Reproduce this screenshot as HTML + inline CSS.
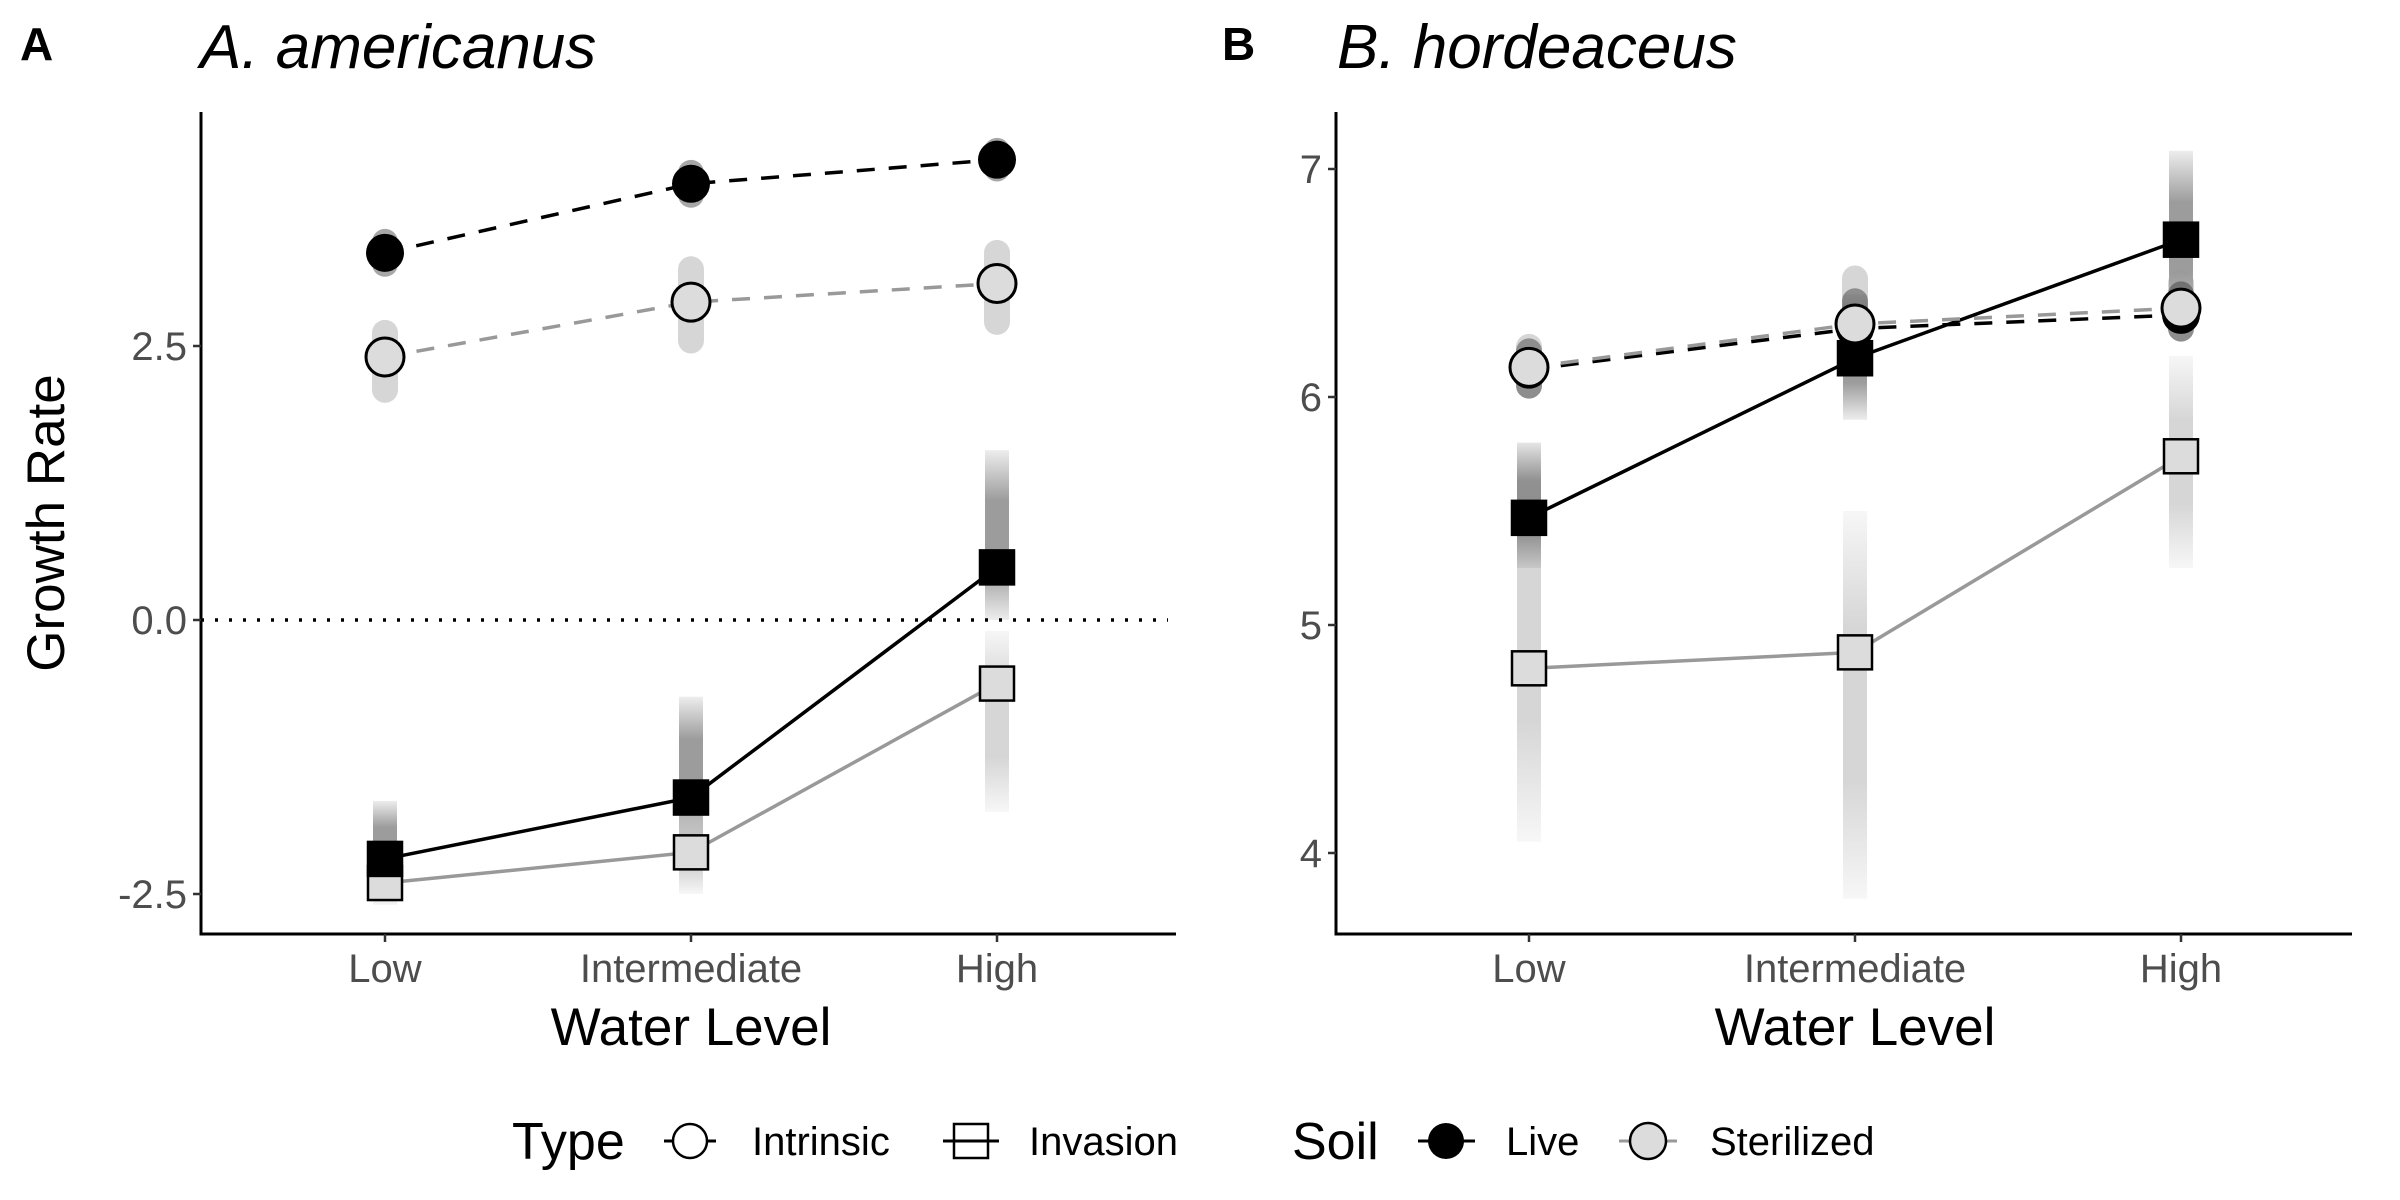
<!DOCTYPE html>
<html><head><meta charset="utf-8"><style>
html,body{margin:0;padding:0;background:#fff;}
svg{display:block;font-family:"Liberation Sans",Arial,sans-serif;}
</style></head><body>
<svg id="chart" width="2400" height="1200" viewBox="0 0 2400 1200">
<defs>
<linearGradient id="fadeDark" x1="0" y1="0" x2="0" y2="1">
<stop offset="0" stop-color="#222" stop-opacity="0.08"/><stop offset="0.3" stop-color="#222" stop-opacity="0.45"/><stop offset="0.7" stop-color="#222" stop-opacity="0.45"/><stop offset="1" stop-color="#222" stop-opacity="0.08"/>
</linearGradient>
<linearGradient id="fadeGrey" x1="0" y1="0" x2="0" y2="1">
<stop offset="0" stop-color="#999" stop-opacity="0.08"/><stop offset="0.3" stop-color="#999" stop-opacity="0.4"/><stop offset="0.7" stop-color="#999" stop-opacity="0.4"/><stop offset="1" stop-color="#999" stop-opacity="0.08"/>
</linearGradient>
</defs>
<g id="panelA"></g>
<g id="panelB"></g>
<g id="legend">
  <text x="512" y="1159" font-size="52">Type</text>
  <g>
    <line x1="664" y1="1141" x2="716" y2="1141" stroke="#000" stroke-width="3"/>
    <circle cx="690" cy="1141" r="17" fill="#fff" stroke="#000" stroke-width="2.5"/>
    <text x="752" y="1155" font-size="40">Intrinsic</text>
  </g>
  <g>
    <line x1="943" y1="1141" x2="999" y2="1141" stroke="#000" stroke-width="3"/>
    <rect x="954" y="1124" width="34" height="34" fill="none" stroke="#000" stroke-width="2.5"/>
    <text x="1029" y="1155" font-size="40">Invasion</text>
  </g>
  <text x="1292" y="1159" font-size="52">Soil</text>
  <g>
    <line x1="1418" y1="1141" x2="1475" y2="1141" stroke="#000" stroke-width="3"/>
    <circle cx="1446" cy="1141" r="18" fill="#000"/>
    <text x="1506" y="1155" font-size="40">Live</text>
  </g>
  <g>
    <line x1="1619" y1="1141" x2="1677" y2="1141" stroke="#999" stroke-width="3"/>
    <circle cx="1648" cy="1141" r="18" fill="#dcdcdc" stroke="#000" stroke-width="2.5"/>
    <text x="1710" y="1155" font-size="40">Sterilized</text>
  </g>
</g>
</svg>
<script>
const categories = ["Low","Intermediate","High"];
// Panel A (A. americanus)
const aTicks = [-2.5, 0.0, 2.5];
const aTickLabels = ["-2.5","0.0","2.5"];
const aLiveIntrinsic = [3.35, 3.98, 4.2];
const aSterIntrinsic = [2.4, 2.9, 3.07];
const aLiveInvasion = [-2.18, -1.62, 0.48];
const aSterInvasion = [-2.4, -2.12, -0.58];
const aLiveIntrinsicRange = [[3.25,3.45],[3.88,4.08],[4.12,4.28]];
const aSterIntrinsicRange = [[2.1,2.62],[2.55,3.2],[2.72,3.35]];
const aLiveInvasionRange = [[-2.45,-1.65],[-2.0,-0.7],[0.0,1.55]];
const aSterInvasionRange = [[-2.6,-2.2],[-2.5,-1.75],[-1.75,-0.1]];
// Panel B (B. hordeaceus)
const bTicks = [4,5,6,7];
const bTickLabels = ["4","5","6","7"];
const bLiveIntrinsic = [6.12, 6.3, 6.36];
const bSterIntrinsic = [6.13, 6.32, 6.39];
const bLiveInvasion = [5.47, 6.17, 6.69];
const bSterInvasion = [4.81, 4.88, 5.74];
const bLiveIntrinsicRange = [[6.05,6.2],[6.22,6.42],[6.3,6.45]];
const bSterIntrinsicRange = [[6.05,6.22],[6.2,6.52],[6.3,6.5]];
const bLiveInvasionRange = [[5.25,5.8],[5.9,6.45],[6.32,7.08]];
const bSterInvasionRange = [[4.05,5.8],[3.8,5.5],[5.25,6.18]];

const NS="http://www.w3.org/2000/svg";
function mk(tag,attrs,parent){const e=document.createElementNS(NS,tag);for(const k in attrs)e.setAttribute(k,attrs[k]);parent.appendChild(e);return e;}

function panel(g,cfg){
  const yScale=v=>cfg.y0+(v-cfg.v0)*cfg.k;
  const xScale=i=>cfg.xs[0]+i*(cfg.xs[1]-cfg.xs[0]);
  let t=mk('text',{x:cfg.labelX,y:60,'font-size':46,'font-weight':'bold'},g);t.textContent=cfg.label;
  
  
  t=mk('text',{x:cfg.titleX,y:68,'font-size':62,'font-style':'italic'},g);t.textContent=cfg.title;
  
  
  let ax=mk('path',{d:`M${cfg.ax0} 112 V934 H${cfg.ax1}`,fill:'none',stroke:'#000','stroke-width':3},g);
  
  
  cfg.ticks.forEach((v,i)=>{
    const y=yScale(v);
    mk('line',{x1:cfg.ax0-8,y1:y,x2:cfg.ax0,y2:y,stroke:'#333','stroke-width':2.5},g);
    const tl=mk('text',{x:cfg.ax0-14,y:y+14,'font-size':40,fill:'#4d4d4d','text-anchor':'end'},g);
    tl.textContent=cfg.tickLabels[i];
    
    
  });
  categories.forEach((c,i)=>{
    const x=xScale(i);
    mk('line',{x1:x,y1:934,x2:x,y2:942,stroke:'#333','stroke-width':2.5},g);
    const tl=mk('text',{x:x,y:982,'font-size':40,fill:'#4d4d4d','text-anchor':'middle'},g);
    tl.textContent=c;
    
    
  });
  const xt=mk('text',{x:xScale(1),y:1045,'font-size':53,'text-anchor':'middle'},g);
  xt.textContent='Water Level';
  
  
  if(cfg.yTitle){
    const yt=mk('text',{x:0,y:0,'font-size':53,'text-anchor':'middle',transform:`translate(64,523) rotate(-90)`},g);
    yt.textContent='Growth Rate';
    
    
  }
  if(cfg.zero){
    const z=mk('line',{x1:cfg.ax0,y1:yScale(0),x2:cfg.ax1-8,y2:yScale(0),stroke:'#000','stroke-width':3.5,'stroke-dasharray':'3 11'},g);
    
    
  }
  function cloud(ranges,shape,color,name){
    const cg=mk('g',{},g);
    
    
    ranges.forEach((r,i)=>{
      const x=xScale(i),y1=yScale(r[1]),y2=yScale(r[0]);
      if(shape==='c') mk('rect',{x:x-13,y:y1-13,width:26,height:(y2-y1)+26,rx:13,fill:color,opacity:0.4},cg);
      else mk('rect',{x:x-12,y:y1,width:24,height:(y2-y1),fill:color==='#999'?'url(#fadeGrey)':'url(#fadeDark)'},cg);
    });
  }
  cloud(cfg.sterInvR,'s','#999','sterilized-invasion-spread');
  cloud(cfg.liveInvR,'s','#222','live-invasion-spread');
  cloud(cfg.sterIntR,'c','#999','sterilized-intrinsic-spread');
  cloud(cfg.liveIntR,'c','#222','live-intrinsic-spread');
  function series(vals,dash,lineColor,shape,fill,name){
    const sg=mk('g',{},g);
    
    
    const pts=vals.map((v,i)=>xScale(i)+','+yScale(v)).join(' ');
    const pl=mk('polyline',{points:pts,fill:'none',stroke:lineColor,'stroke-width':3.5},sg);
    if(dash) pl.setAttribute('stroke-dasharray','18 14');
    vals.forEach((v,i)=>{
      const x=xScale(i),y=yScale(v);
      let m;
      if(shape==='c') m=mk('circle',{cx:x,cy:y,r:19,fill:fill,stroke:'#000','stroke-width':fill==='#000'?0:3},sg);
      else m=mk('rect',{x:x-17,y:y-17,width:34,height:34,fill:fill,stroke:'#000','stroke-width':2.5},sg);
      
      
    });
  }
  series(cfg.sterInv,false,'#999','s','#dcdcdc','sterilized-invasion-series');
  series(cfg.liveInv,false,'#000','s','#000','live-invasion-series');
  series(cfg.liveInt,true,'#000','c','#000','live-intrinsic-series');
  series(cfg.sterInt,true,'#999','c','#dcdcdc','sterilized-intrinsic-series');
}
panel(document.getElementById('panelA'),{label:'A',labelX:20,title:'A. americanus',titleX:200,
  ax0:201,ax1:1176,xs:[385,691],y0:620,v0:0,k:-109.6,ticks:aTicks,tickLabels:aTickLabels,yTitle:true,zero:true,
  liveInt:aLiveIntrinsic,sterInt:aSterIntrinsic,liveInv:aLiveInvasion,sterInv:aSterInvasion,
  liveIntR:aLiveIntrinsicRange,sterIntR:aSterIntrinsicRange,liveInvR:aLiveInvasionRange,sterInvR:aSterInvasionRange});
panel(document.getElementById('panelB'),{label:'B',labelX:1222,title:'B. hordeaceus',titleX:1337,
  ax0:1336,ax1:2352,xs:[1529,1855],y0:397,v0:6,k:-228,ticks:bTicks,tickLabels:bTickLabels,yTitle:false,zero:false,
  liveInt:bLiveIntrinsic,sterInt:bSterIntrinsic,liveInv:bLiveInvasion,sterInv:bSterInvasion,
  liveIntR:bLiveIntrinsicRange,sterIntR:bSterIntrinsicRange,liveInvR:bLiveInvasionRange,sterInvR:bSterInvasionRange});
</script>
</body></html>
